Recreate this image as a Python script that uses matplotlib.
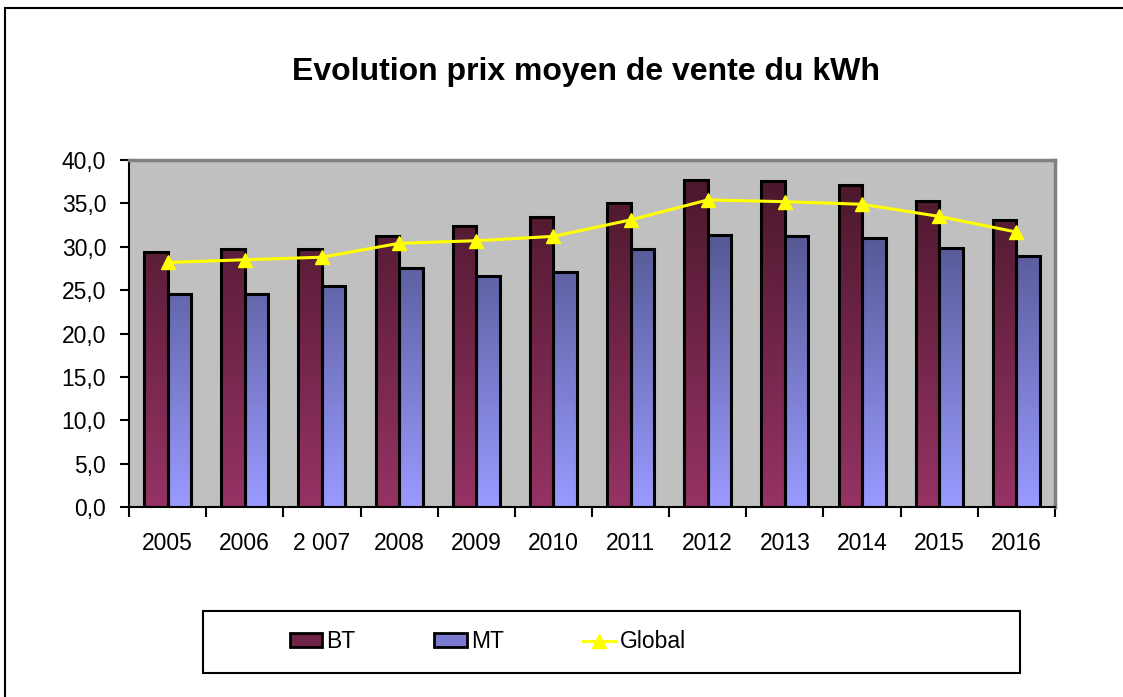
import matplotlib.pyplot as plt
import numpy as np
from matplotlib.colors import LinearSegmentedColormap
from matplotlib.patches import Rectangle, Patch
from matplotlib.lines import Line2D
from matplotlib.ticker import FuncFormatter

plt.rcParams['font.family'] = ['Liberation Sans', 'DejaVu Sans']

# data
years = ['2005', '2006', '2 007', '2008', '2009', '2010', '2011', '2012', '2013', '2014', '2015', '2016']
bt = [29.4, 29.7, 29.7, 31.2, 32.4, 33.4, 35.1, 37.7, 37.6, 37.15, 35.3, 33.1]
mt = [24.55, 24.55, 25.5, 27.6, 26.6, 27.05, 29.7, 31.35, 31.2, 31.0, 29.85, 28.9]
glob = [28.2, 28.5, 28.8, 30.4, 30.7, 31.2, 33.1, 35.4, 35.2, 34.9, 33.5, 31.7]

bt_cmap = LinearSegmentedColormap.from_list('bt', ['#963364', '#471629'])
mt_cmap = LinearSegmentedColormap.from_list('mt', ['#9a9aff', '#434777'])

fig = plt.figure(figsize=(11.23, 6.97), dpi=100)
ax = fig.add_axes([0.1149, 0.2726, 0.8245, 0.4978])
ax.set_facecolor('#c0c0c0')

x = np.arange(len(years))
w = 0.305
ymax = 40.0


# gradient as a function of absolute y so all bars share it, dark at top
def grad_bar(xs, vals, cmap):
    ax.bar(xs, vals, width=w, facecolor='none', edgecolor='black',
           linewidth=2.2, zorder=3)
    for xi, h in zip(xs, vals):
        col = np.linspace(0, h / ymax, 200).reshape(-1, 1)
        ax.imshow(col, cmap=cmap, vmin=0, vmax=1, aspect='auto', origin='lower',
                  extent=[xi - w / 2, xi + w / 2, 0, h], zorder=2)


grad_bar(x - w / 2, bt, bt_cmap)
grad_bar(x + w / 2, mt, mt_cmap)

ax.plot(x, glob, color='#ffff00', linewidth=2.2, marker='^', markersize=10,
        markeredgecolor='#ffff00', zorder=4)

ax.set_xlim(-0.5, len(years) - 0.5)
ax.set_ylim(0, ymax)
ax.set_yticks(np.arange(0, 40.1, 5))
ax.yaxis.set_major_formatter(FuncFormatter(lambda v, p: f'{v:.1f}'.replace('.', ',')))
ax.set_xticks(x)
ax.set_xticklabels(years)
ax.set_xticks(np.arange(-0.5, len(years), 1), minor=True)
ax.tick_params(axis='x', which='major', length=0, pad=18, labelsize=16.5)
ax.tick_params(axis='x', which='minor', length=7, width=1.5, direction='out')
ax.tick_params(axis='y', length=6.5, width=1.5, direction='out', pad=10, labelsize=16.5)

for s in ['top', 'right']:
    ax.spines[s].set_color('#808080')
    ax.spines[s].set_linewidth(2.5)
for s in ['left', 'bottom']:
    ax.spines[s].set_color('black')
    ax.spines[s].set_linewidth(1.5)

fig.text(586 / 1123, 1 - 72 / 697, 'Evolution prix moyen de vente du kWh',
         ha='center', va='center', fontsize=23, fontweight='bold')

# outer chart frame
fig.patches.append(Rectangle((5 / 1123, -0.02), 1.02, 1 - 8 / 697 + 0.02,
                             transform=fig.transFigure, fill=False,
                             edgecolor='black', linewidth=1.5))

# legend box
fig.patches.append(Rectangle((203 / 1123, 1 - 673 / 697), 817 / 1123, 62 / 697,
                             transform=fig.transFigure, fill=False,
                             edgecolor='black', linewidth=1.5))
handles = [Patch(facecolor='#6e2446', edgecolor='black', linewidth=2),
           Patch(facecolor='#7a7ad0', edgecolor='black', linewidth=2),
           Line2D([], [], color='#ffff00', linewidth=2.2, marker='^', markersize=10)]
fig.legend(handles, ['BT', 'MT', 'Global'], loc='center left',
           bbox_to_anchor=(269 / 1123, 1 - 642 / 697), ncol=3, frameon=False,
           fontsize=16.5, handlelength=1.4, handleheight=0.55, handletextpad=0.2,
           columnspacing=3.45)

fig.savefig('out.png', dpi=100)
